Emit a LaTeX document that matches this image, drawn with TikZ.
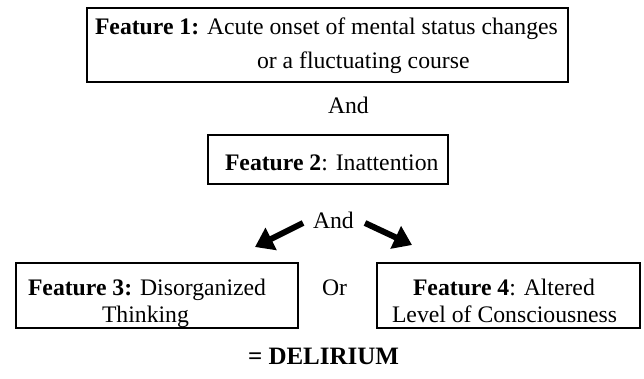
\documentclass[tikz,border=0pt]{standalone}
\usepackage{fontspec}
\setmainfont{Liberation Serif}
\usetikzlibrary{arrows.meta}
\tikzset{
  boxframe/.style={draw=black, line width=2pt, fill=none},
  txt/.style={anchor=base west, inner sep=0pt, outer sep=0pt, font=\fontsize{23.7}{28}\selectfont},
  bigarrow/.style={line width=6pt, -{Triangle[length=18pt,width=24pt]}}
}
\begin{document}
\begin{tikzpicture}[x=1pt,y=-1pt]
\useasboundingbox (0,0) rectangle (644,379);
% boxes
\draw[boxframe] (87,8) rectangle (568,82);
\draw[boxframe] (208,135) rectangle (448,184);
\draw[boxframe] (16,263) rectangle (298,328);
\draw[boxframe] (377,263) rectangle (640,328);
% texts
\node[txt] (f1a) at (95,35) {\textbf{Feature 1:} Acute onset of mental status changes};
\node[txt] (f1b) at (257,69) {or a fluctuating course};
\node[txt] (and1) at (328,114) {And};
\node[txt] (f2) at (225,171) {\textbf{Feature 2}: Inattention};
\node[txt] (and2) at (313,228) {And};
\node[txt] (f3a) at (28,295) {\textbf{Feature 3:} Disorganized};
\node[txt] (f3b) at (102,322) {Thinking};
\node[txt] (or) at (322,295) {Or};
\node[txt] (f4a) at (413,295) {\textbf{Feature 4}: Altered};
\node[txt] (f4b) at (392,322) {Level of Consciousness};
\node[txt, font=\fontsize{25}{30}\selectfont\bfseries] (del) at (248,364) {= DELIRIUM};
% arrows
\coordinate (la) at (303,223);
\coordinate (lb) at (255,247);
\coordinate (ra) at (365,223);
\coordinate (rb) at (412,245);
\draw[bigarrow] (la) -- (lb);
\draw[bigarrow] (ra) -- (rb);
\end{tikzpicture}
\end{document}
